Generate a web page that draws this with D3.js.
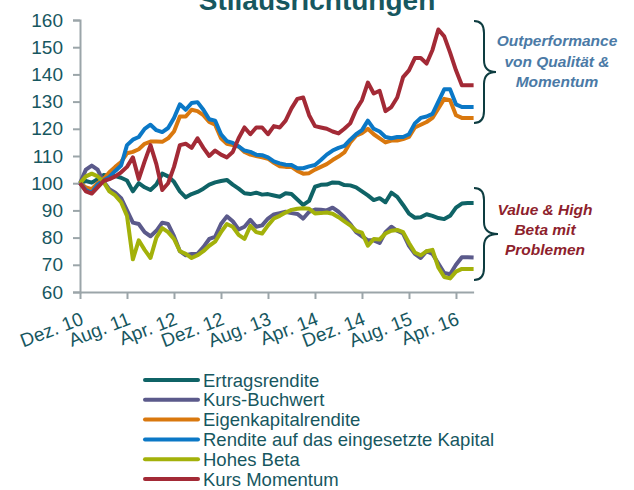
<!DOCTYPE html>
<html>
<head>
<meta charset="utf-8">
<script src="https://cdn.jsdelivr.net/npm/d3@7"></script>
<style>
  body { margin: 0; background: #fff; }
  svg { display: block; font-family: "Liberation Sans", Arial, sans-serif; }
</style>
</head>
<body>
<svg id="chart" width="634" height="490"></svg>
<script>
// monthly index values, Dez. 10 = 100 (68 months, Dez. 10 .. Jul. 16)
const tickLabels = ["Dez. 10", "Aug. 11", "Apr. 12", "Dez. 12", "Aug. 13", "Apr. 14", "Dez. 14", "Aug. 15", "Apr. 16"];
const yTicks = [60, 70, 80, 90, 100, 110, 120, 130, 140, 150, 160];

const seriesNames = ["Ertragsrendite", "Kurs-Buchwert", "Eigenkapitalrendite",
  "Rendite auf das eingesetzte Kapital", "Hohes Beta", "Kurs Momentum"];

const ertragsrendite = [100, 100.8, 100.2, 101.5, 103, 102.8, 102.6, 102, 101, 97,
  100, 98.5, 97.5, 99.5, 103.5, 102.5, 100.5, 97, 94.8, 96,
  96.8, 98, 99.5, 100.3, 100.8, 101.2, 99.5, 98, 96.3, 96,
  96.5, 95.8, 96, 95.5, 95, 96.3, 96, 94, 92, 93.5,
  98.7, 99.4, 99.5, 100.3, 100.2, 99.3, 99.2, 98.5, 97, 95.5,
  93.8, 94.5, 93, 96.5, 95, 92, 88.8, 87.3, 87.5, 88.6,
  88, 87.2, 86.8, 88, 91, 92.5, 92.7, 92.7];

const kursBuchwert = [100, 105, 106.5, 105, 100.6, 97.8, 96.5, 94.5, 90, 85.5,
  85, 82, 80.5, 82.5, 85.5, 85, 80.5, 75, 73.5, 74,
  74, 76.5, 79.5, 80.3, 85, 87.8, 86, 83, 84, 86.5,
  84, 84.5, 87, 88.5, 89, 89.5, 89, 88.7, 87, 89.5,
  90.3, 90.2, 90, 91, 89.5, 87.5, 85, 82, 80.5, 79,
  79, 78, 82, 84, 82.5, 81.5, 77, 74, 72.5, 75,
  74, 70.5, 67, 66.5, 70, 72.8, 72.8, 72.7];

const eigenkapitalrendite = [100, 98.5, 97.8, 100, 101.5, 104, 106, 107.8, 111, 111.5,
  112.5, 114.5, 115.3, 115.3, 115.2, 116.5, 119, 124.5, 124.5, 127,
  126.5, 125, 122.5, 121.5, 116.5, 114.5, 114, 113.5, 111.5, 110.5,
  110, 109.5, 109, 107.5, 106.2, 106, 106, 104.5, 103.5, 103.7,
  105, 106, 107, 108.5, 109.8, 111.3, 115, 117.5, 118.4, 120,
  118, 116.5, 115, 115.7, 115.7, 116.2, 117, 120.5, 121.5, 122.5,
  124, 127.5, 131, 130.5, 125, 124, 124, 124];

const renditeKapital = [100, 97.5, 96.5, 99.5, 101, 102.3, 104.5, 106.5, 114, 116,
  117, 120, 121.5, 119.5, 118.8, 120.3, 124, 129, 127, 129.5,
  129.8, 127, 123.5, 123, 118, 115.5, 114.8, 113.5, 112, 111.5,
  110.5, 110.3, 109.5, 108, 107.3, 106.8, 106.7, 105.5, 105.5, 106.2,
  106.7, 108.5, 110.5, 112, 113, 113.7, 116, 118, 119.5, 123,
  120, 119, 117, 116.5, 117, 117, 118, 122, 124, 124.5,
  125.5, 130, 134.5, 134.5, 129, 128, 128, 128];

const hohesBeta = [100, 102.5, 103.5, 102.5, 100.5, 97, 95.5, 93, 88, 72,
  79, 75.5, 72.5, 80, 83.5, 82, 79.5, 75, 74, 72.5,
  73.5, 75, 77, 78.5, 82, 85, 84, 81, 79.5, 84.3,
  82, 81.5, 84.5, 87, 88, 89.2, 90.2, 90.6, 90.8, 90.6,
  88.9, 89, 89.2, 88.8, 87.5, 86, 84.5, 82.5, 81.8, 77,
  79.5, 79.3, 81.5, 82.5, 82.8, 82, 78, 74.5, 73.5, 75,
  75.5, 69, 65.5, 65, 67.5, 68.5, 68.5, 68.5];

const kursMomentum = [100, 97, 96.2, 98.5, 100.8, 101.5, 102.5, 104, 106, 109.5,
  101.5, 108, 114, 107, 97.5, 100, 106, 114, 114.5, 113,
  116.5, 113, 110, 112, 110.5, 109.5, 111.5, 116.5, 120.5, 118,
  120.5, 120.5, 118, 121, 120.5, 123, 127.5, 131, 131.5, 125,
  121, 120.5, 120, 119, 118.3, 120, 122, 127, 130.5, 137,
  133, 134, 126.5, 128, 131.5, 139, 141.5, 146, 146, 144,
  149, 156.5, 154, 148, 141.5, 136, 136, 136];

const seriesValues = [ertragsrendite, kursBuchwert, eigenkapitalrendite, renditeKapital, hohesBeta, kursMomentum];
const colors = ["#0f6366", "#5b5a8b", "#d9780e", "#0b78c6", "#a3b10a", "#a32a36"];

const textColor = "#17575f";
const axisColor = "#9ba5a9";

const svg = d3.select("#chart");

const x = d3.scaleLinear().domain([0, 67]).range([80, 473.6]);
const y = d3.scaleLinear().domain([60, 160]).range([292, 20]);

// title (cut off at the top, like the original)
svg.append("text")
  .attr("x", 317)
  .attr("y", 10)
  .attr("text-anchor", "middle")
  .attr("font-size", 28)
  .attr("font-weight", "bold")
  .attr("fill", textColor)
  .text("Stilausrichtungen");

// y axis
const yAxis = svg.append("g")
  .attr("transform", "translate(80,0)")
  .call(d3.axisLeft(y).tickValues(yTicks).tickSize(7).tickPadding(10));
yAxis.selectAll("text").attr("font-size", 19).attr("fill", textColor).attr("font-family", "Liberation Sans, Arial");

// x axis
const xAxis = svg.append("g")
  .attr("transform", "translate(0,292)")
  .call(d3.axisBottom(x).tickValues(d3.range(0, 65, 8))
    .tickFormat((d, i) => tickLabels[i]).tickSize(7).tickSizeOuter(0));
xAxis.selectAll("text")
  .attr("font-size", 19)
  .attr("fill", textColor)
  .attr("font-family", "Liberation Sans, Arial")
  .attr("text-anchor", "end")
  .attr("dy", null)
  .attr("y", 0)
  .attr("transform", "translate(4,32) rotate(-21)");

svg.selectAll(".domain, .tick line")
  .attr("stroke", axisColor)
  .attr("stroke-width", 2);

// lines
const line = d3.line()
  .x((d, i) => x(i))
  .y(d => y(d));

svg.append("g")
  .selectAll("path")
  .data(seriesValues)
  .join("path")
  .attr("d", d => line(d))
  .attr("fill", "none")
  .attr("stroke", (d, i) => colors[i])
  .attr("stroke-width", 4)
  .attr("stroke-linejoin", "round");

// braces on the right
function brace(x0, y1, y2, spine, tip) {
  const m = (y1 + y2) / 2, r = 12;
  return `M${x0},${y1} Q${x0 + spine},${y1} ${x0 + spine},${y1 + r}`
    + ` L${x0 + spine},${m - r} Q${x0 + spine},${m} ${x0 + tip},${m}`
    + ` Q${x0 + spine},${m} ${x0 + spine},${m + r}`
    + ` L${x0 + spine},${y2 - r} Q${x0 + spine},${y2} ${x0},${y2}`;
}

svg.append("path")
  .attr("d", brace(474, 21, 123, 10, 22))
  .attr("fill", "none").attr("stroke", "#0d3c40").attr("stroke-width", 2);
svg.append("path")
  .attr("d", brace(474, 188, 280, 10, 24))
  .attr("fill", "none").attr("stroke", "#0d3c40").attr("stroke-width", 2);

const noteUp = ["Outperformance", "von Qualität &", "Momentum"];
const noteDown = ["Value & High", "Beta mit", "Problemen"];

svg.append("g").selectAll("text")
  .data(noteUp).join("text")
  .attr("x", 557).attr("y", (d, i) => 46 + i * 20.5)
  .attr("text-anchor", "middle")
  .attr("font-size", 15.5).attr("font-weight", "bold").attr("font-style", "italic")
  .attr("fill", "#4b7aa6")
  .text(d => d);

svg.append("g").selectAll("text")
  .data(noteDown).join("text")
  .attr("x", 545).attr("y", (d, i) => 215 + i * 20)
  .attr("text-anchor", "middle")
  .attr("font-size", 15.5).attr("font-weight", "bold").attr("font-style", "italic")
  .attr("fill", "#8e1f2d")
  .text(d => d);

// legend
const legend = svg.append("g").attr("transform", "translate(145,380)");
const rows = legend.selectAll("g")
  .data(seriesNames).join("g")
  .attr("transform", (d, i) => `translate(0,${i * 19.8})`);
rows.append("line")
  .attr("x1", 0).attr("x2", 53)
  .attr("stroke", (d, i) => colors[i])
  .attr("stroke-width", 4).attr("stroke-linecap", "round");
rows.append("text")
  .attr("x", 58).attr("y", 6.5)
  .attr("font-size", 18.5)
  .attr("fill", textColor)
  .text(d => d);
</script>
</body>
</html>
